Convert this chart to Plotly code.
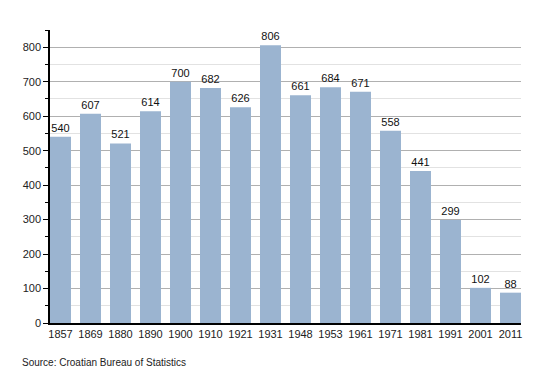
import plotly.graph_objects as go

years = ["1857", "1869", "1880", "1890", "1900", "1910", "1921", "1931",
         "1948", "1953", "1961", "1971", "1981", "1991", "2001", "2011"]
population = [540, 607, 521, 614, 700, 682, 626, 806,
              661, 684, 671, 558, 441, 299, 102, 88]
source_text = "Source: Croatian Bureau of Statistics"

fig = go.Figure(go.Bar(
    x=years, y=population,
    text=[str(v) for v in population],
    textposition="outside",
    textfont=dict(size=11, color="#111111"),
    marker=dict(color="#9bb4d0", line=dict(width=0)),
    width=0.7,
    cliponaxis=False,
))

fig.update_layout(
    width=542, height=365,
    margin=dict(l=42, r=29, t=22, b=50),
    paper_bgcolor="white",
    plot_bgcolor="white",
    font=dict(family="Liberation Sans, Arial, sans-serif", size=11, color="#222222"),
    showlegend=False,
    xaxis=dict(
        type="category",
        range=[-0.35, 15.35],
        showline=True, linecolor="black", linewidth=1.5,
        ticks="", showgrid=False,
        tickfont=dict(size=11, color="#222222"),
    ),
    yaxis=dict(
        range=[0, 850],
        dtick=100,
        showline=True, linecolor="black", linewidth=1.5,
        ticks="outside", ticklen=5, tickcolor="black",
        showgrid=True, gridcolor="#b0b0b0", gridwidth=1,
        zeroline=False,
        tickfont=dict(size=11, color="#222222"),
        minor=dict(dtick=50, ticks="outside", ticklen=3, tickcolor="black",
                   showgrid=True, gridcolor="#e2e2e2", gridwidth=1),
    ),
    annotations=[dict(
        text=source_text, xref="paper", yref="paper",
        x=-30 / 471, y=-39 / 293, xanchor="left", yanchor="middle",
        showarrow=False, font=dict(size=10, color="#222222"),
    )],
)

fig.write_html("out.html")
